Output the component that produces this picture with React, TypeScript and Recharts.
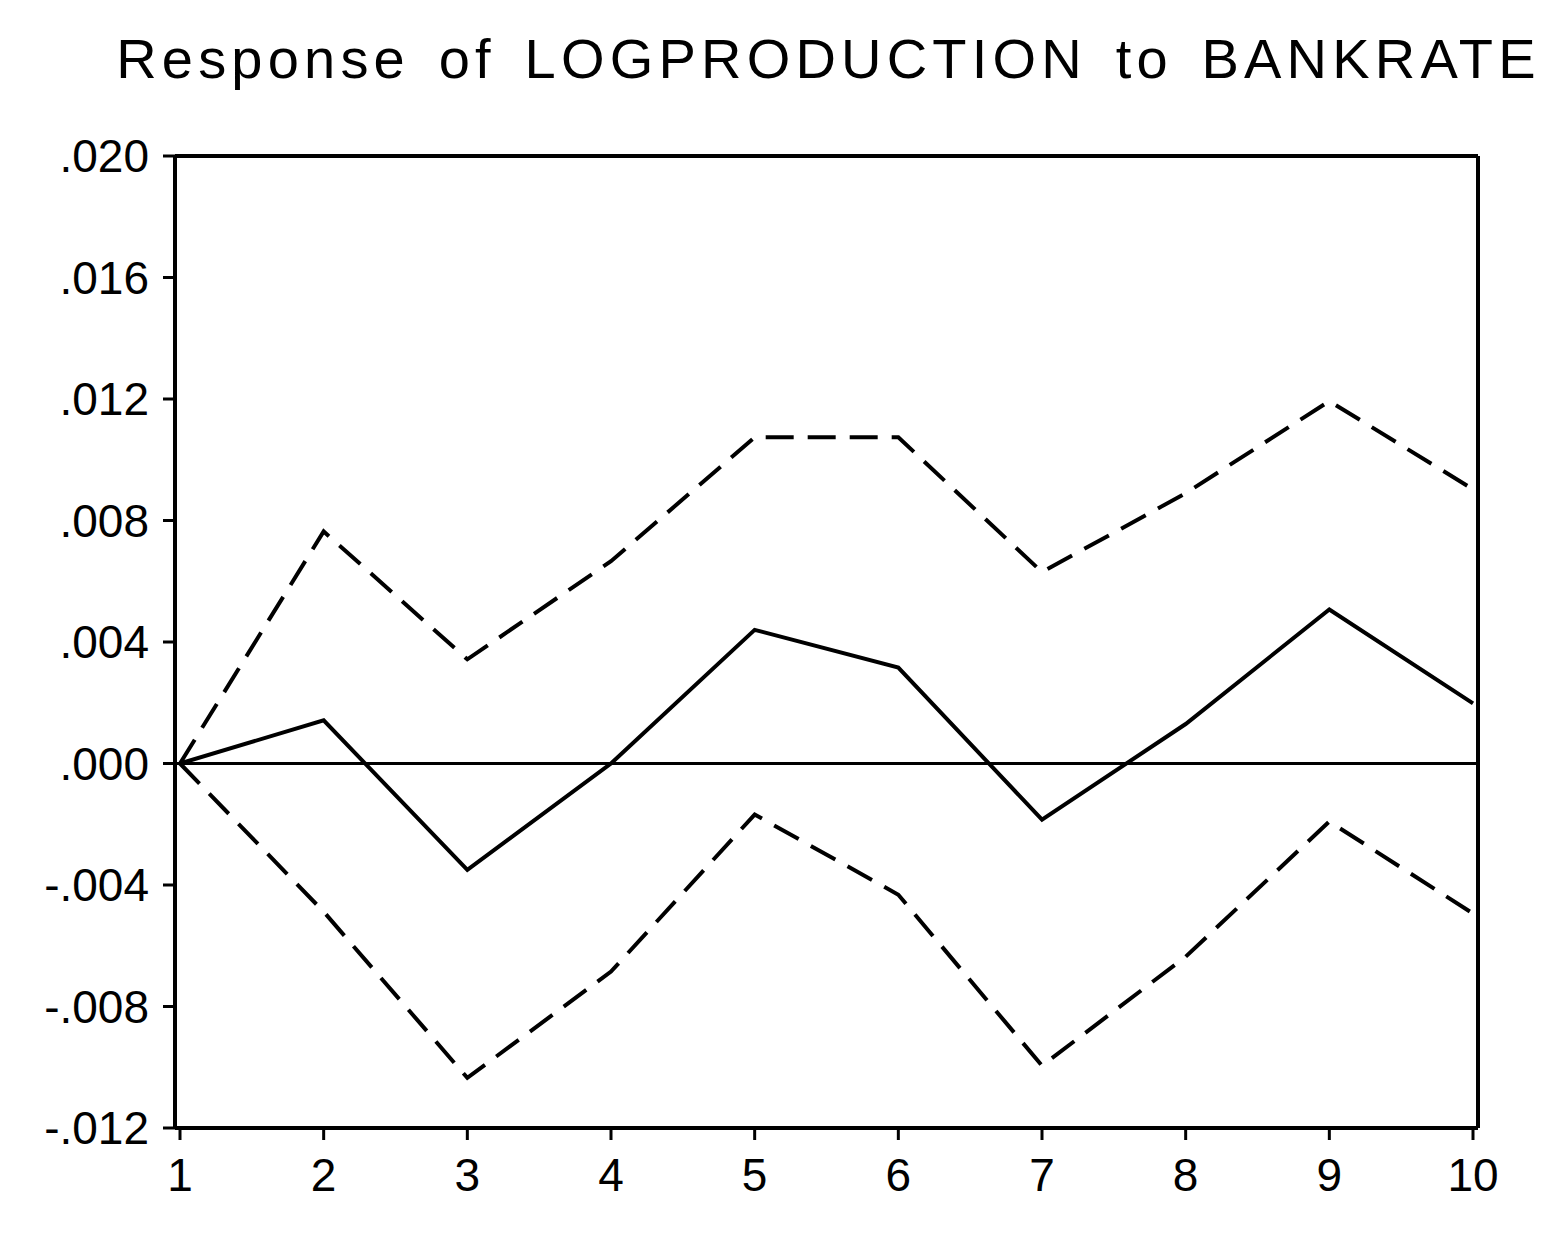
import { LineChart, Line, XAxis, YAxis, ReferenceLine } from 'recharts'

const PERIODS = [1, 2, 3, 4, 5, 6, 7, 8, 9, 10]
const RESPONSE = [0, 0.00142, -0.0035, 0.0, 0.0044, 0.00316, -0.00185, 0.0013, 0.00507, 0.00198]
const UPPER = [0, 0.00764, 0.00343, 0.00666, 0.01074, 0.01074, 0.0063, 0.0089, 0.01193, 0.00903]
const LOWER = [0, -0.00488, -0.01035, -0.00685, -0.00168, -0.00432, -0.00995, -0.00636, -0.00191, -0.00494]
const Y_TICKS = [-0.012, -0.008, -0.004, 0, 0.004, 0.008, 0.012, 0.016, 0.02]

const data = PERIODS.map((p, i) => ({ p, resp: RESPONSE[i], up: UPPER[i], lo: LOWER[i] }))

const FONT = "'Liberation Sans', Arial, sans-serif"
const TICK = { fill: '#000', fontSize: 46, fontFamily: FONT }

const fmt = (v: number) => v.toFixed(3).replace('0.', '.')

export default function App() {
  return (
    <div style={{ position: 'absolute', left: 0, top: 0, width: 1557, height: 1246, background: '#fff' }}>
      <div
        style={{
          position: 'absolute', left: 0, width: 1557, top: 26, textAlign: 'center',
          paddingLeft: 100, boxSizing: 'border-box',
          fontFamily: FONT, fontSize: 56, letterSpacing: 5.2, wordSpacing: 8, color: '#000',
        }}
      >
        Response of LOGPRODUCTION to BANKRATE
      </div>
      <LineChart width={1557} height={1246} data={data} margin={{ top: 154, right: 78, bottom: 18, left: 10 }}>
        <XAxis
          dataKey="p" type="number" domain={[1, 10]} ticks={PERIODS}
          padding={{ left: 5, right: 5 }} height={100}
          tick={TICK} tickLine={{ stroke: '#000', strokeWidth: 3 }} tickSize={12} tickMargin={18}
          axisLine={{ stroke: '#000', strokeWidth: 4 }}
        />
        <XAxis xAxisId="top" orientation="top" dataKey="p" type="number" domain={[1, 10]}
          height={2} tick={false} tickLine={false} axisLine={{ stroke: '#000', strokeWidth: 4 }} />
        <YAxis
          type="number" domain={[-0.012, 0.02]} ticks={Y_TICKS} width={165}
          tickFormatter={fmt} tick={TICK} tickLine={{ stroke: '#000', strokeWidth: 3 }} tickSize={12} tickMargin={14}
          axisLine={{ stroke: '#000', strokeWidth: 4 }}
        />
        <YAxis yAxisId="right" orientation="right" domain={[-0.012, 0.02]} width={1}
          tick={false} tickLine={false} axisLine={{ stroke: '#000', strokeWidth: 4 }} />
        <ReferenceLine y={0} stroke="#000" strokeWidth={3} />
        <Line dataKey="up" stroke="#000" strokeWidth={4} strokeDasharray="28 14" dot={false} isAnimationActive={false} strokeLinejoin="miter" />
        <Line dataKey="lo" stroke="#000" strokeWidth={4} strokeDasharray="28 14" dot={false} isAnimationActive={false} strokeLinejoin="miter" />
        <Line dataKey="resp" stroke="#000" strokeWidth={4} dot={false} isAnimationActive={false} strokeLinejoin="miter" />
      </LineChart>
    </div>
  )
}
